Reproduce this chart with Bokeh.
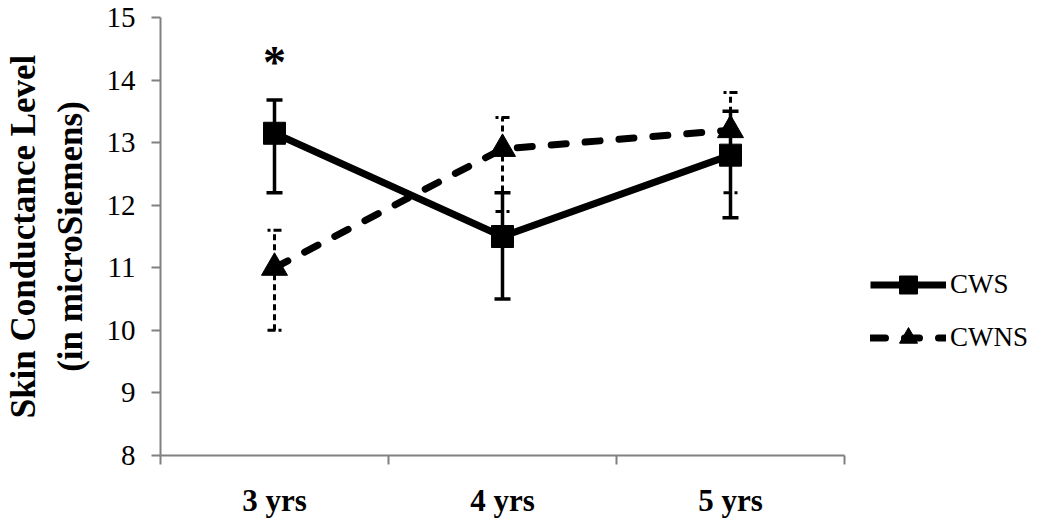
from bokeh.plotting import figure
from bokeh.layouts import row
from bokeh.models import (ColumnDataSource, Whisker, TeeHead, FixedTicker,
                          Legend, LegendItem, Range1d)
from bokeh.embed import file_html
from bokeh.resources import INLINE
from bokeh.core.properties import value

# ---- data ----
categories = ["3 yrs", "4 yrs", "5 yrs"]
cws_mean = [13.15, 11.5, 12.8]
cws_upper = [13.68, 12.2, 13.5]
cws_lower = [12.2, 10.5, 11.8]
cwns_mean = [11.0, 12.9, 13.2]
cwns_upper = [11.6, 13.4, 13.8]
cwns_lower = [10.0, 11.9, 12.2]
y_ticks = [8, 9, 10, 11, 12, 13, 14, 15]
series_names = ["CWS", "CWNS"]

FONT = "Liberation Serif"
xs = [i + 0.5 for i in range(len(categories))]

p = figure(width=854, height=520, output_backend="svg", toolbar_location=None,
           x_range=Range1d(0, len(categories)), y_range=Range1d(y_ticks[0], y_ticks[-1]),
           min_border_left=153, min_border_right=10, min_border_top=17,
           min_border_bottom=59)
p.outline_line_color = None
p.grid.visible = False
p.background_fill_color = "white"

src_cws = ColumnDataSource(dict(x=xs, y=cws_mean, upper=cws_upper, lower=cws_lower))
src_cwns = ColumnDataSource(dict(x=xs, y=cwns_mean, upper=cwns_upper, lower=cwns_lower))

# error bars
w1 = Whisker(source=src_cws, base="x", upper="upper", lower="lower",
             line_color="black", line_width=3.5,
             upper_head=TeeHead(size=16, line_width=3.5, line_color="black"),
             lower_head=TeeHead(size=16, line_width=3.5, line_color="black"))
w2 = Whisker(source=src_cwns, base="x", upper="upper", lower="lower",
             line_color="black", line_width=3, line_dash="6 4",
             upper_head=TeeHead(size=14, line_width=3, line_color="black", line_dash="8 3"),
             lower_head=TeeHead(size=14, line_width=3, line_color="black", line_dash="8 3"))
p.add_layout(w1)
p.add_layout(w2)

LINE_W = 7
CWS_STYLE = dict(line_color="black", line_width=LINE_W)
CWNS_STYLE = dict(line_color="black", line_width=LINE_W, line_dash="15 19", line_cap="round")

p.line("x", "y", source=src_cws, **CWS_STYLE)
p.scatter("x", "y", source=src_cws, marker="square", size=22,
          fill_color="black", line_color="black")
p.line("x", "y", source=src_cwns, **CWNS_STYLE)
p.scatter("x", "y", source=src_cwns, marker="triangle", size=26,
          fill_color="black", line_color="black")

# significance asterisk
p.text(x=[xs[0]], y=[cws_upper[0] + 0.6], text=["*"], text_font=value(FONT),
       text_font_style="bold", text_font_size="46px", text_align="center",
       text_baseline="middle", text_color="black")

# axes
ax = p.xaxis[0]
ax.ticker = FixedTicker(ticks=xs, minor_ticks=list(range(len(categories) + 1)))
ax.major_label_overrides = {x: c for x, c in zip(xs, categories)}
ax.major_tick_out = 0
ax.major_tick_in = 0
ax.minor_tick_out = 9
ax.minor_tick_in = 0
ax.minor_tick_line_color = "#808080"
ax.minor_tick_line_width = 2
ax.axis_line_color = "#808080"
ax.axis_line_width = 2
ax.major_label_text_font = FONT
ax.major_label_text_font_style = "bold"
ax.major_label_text_font_size = "31px"
ax.major_label_text_color = "black"
ax.major_label_standoff = 18

ay = p.yaxis[0]
ay.ticker = FixedTicker(ticks=y_ticks, minor_ticks=[])
ay.major_tick_out = 9
ay.major_tick_in = 0
ay.major_tick_line_color = "#808080"
ay.major_tick_line_width = 2
ay.axis_line_color = "#808080"
ay.axis_line_width = 2
ay.major_label_text_font = FONT
ay.major_label_text_font_size = "29px"
ay.major_label_text_color = "black"
ay.major_label_standoff = 16
ay.axis_label = "Skin Conductance Level\n(in microSiemens)"
ay.axis_label_text_font = FONT
ay.axis_label_text_font_style = "bold"
ay.axis_label_text_font_size = "35px"
ay.axis_label_text_color = "black"
ay.axis_label_standoff = 14

# legend panel (separate figure to the right of the plot)
q = figure(width=180, height=520, output_backend="svg", toolbar_location=None,
           x_range=Range1d(0, 1), y_range=Range1d(0, 1),
           min_border_left=0, min_border_right=0, min_border_top=0, min_border_bottom=0)
q.axis.visible = False
q.grid.visible = False
q.outline_line_color = None
nan = float("nan")
placeholder = dict(x=[nan], y=[nan])
ql1 = q.line("x", "y", source=ColumnDataSource(placeholder), **CWS_STYLE)
qm1 = q.scatter("x", "y", source=ColumnDataSource(placeholder), marker="square",
                fill_color="black", line_color="black")
ql2 = q.line("x", "y", source=ColumnDataSource(placeholder), **CWNS_STYLE)
qm2 = q.scatter("x", "y", source=ColumnDataSource(placeholder), marker="triangle",
                fill_color="black", line_color="black")
legend = Legend(items=[LegendItem(label=series_names[0], renderers=[ql1, qm1]),
                       LegendItem(label=series_names[1], renderers=[ql2, qm2])],
                location=(16, 95), orientation="vertical",
                glyph_width=76, glyph_height=45, spacing=8, label_standoff=4,
                label_text_font=FONT, label_text_font_size="27px",
                label_text_color="black", border_line_color=None,
                background_fill_alpha=0, padding=0, margin=0)
q.add_layout(legend, "center")

layout = row(p, q, spacing=0)
open("out.html", "w").write(file_html(layout, INLINE))
